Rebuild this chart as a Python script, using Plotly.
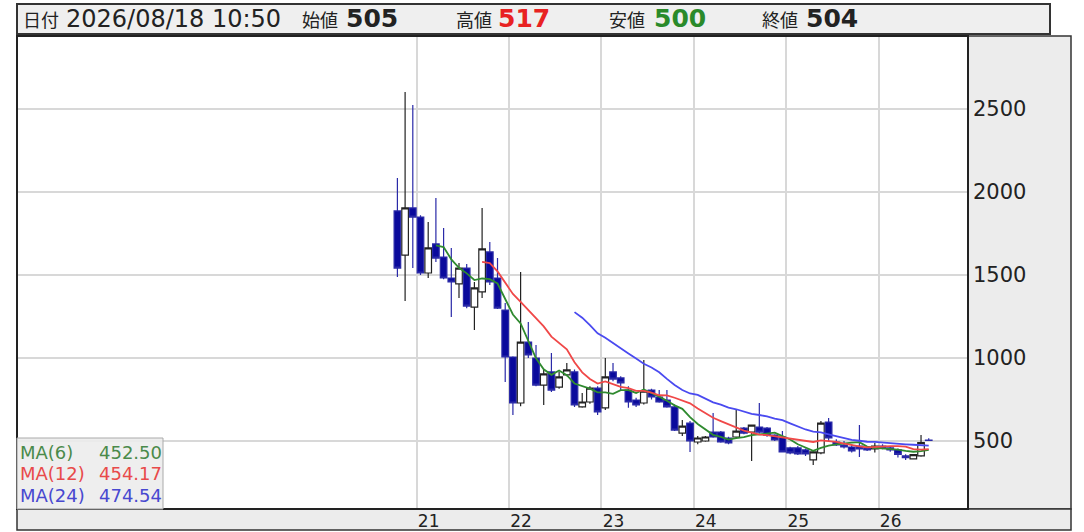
import plotly.graph_objects as go
import pandas as pd

# ---- data (30-minute candles) ----
opens = [1886, 1620, 1904, 1849, 1512, 1687, 1608, 1482, 1446, 1542, 1307, 1398,
         1639, 1482, 1289, 1006, 729, 1096, 1000, 837, 916, 825, 898, 916,
         705, 735, 819, 699, 916, 880, 807, 747, 729, 807, 765, 747,
         705, 548, 608, 494, 500, 554, 554, 518, 524, 578, 554, 584,
         578, 536, 524, 458, 458, 446, 386, 428, 614, 494, 476, 464,
         470, 458, 452, 470, 458, 446, 410, 392, 410, 505]
highs = [2084, 2602, 2524, 1860, 1819, 1964, 1783, 1663, 1572, 1566, 1458, 1904,
         1699, 1602, 1331, 1010, 1518, 1217, 1078, 928, 1030, 916, 970, 930,
         789, 830, 830, 1000, 970, 890, 830, 760, 988, 815, 807, 807,
         720, 626, 620, 530, 530, 669, 560, 525, 687, 585, 600, 729,
         585, 540, 560, 465, 470, 455, 440, 620, 639, 510, 500, 480,
         596, 470, 490, 480, 470, 455, 420, 420, 536, 517]
lows = [1488, 1343, 1542, 1500, 1482, 1578, 1475, 1247, 1361, 1300, 1169, 1361,
        1440, 1295, 855, 657, 710, 1000, 830, 717, 795, 815, 890, 705,
        700, 725, 657, 687, 860, 807, 700, 705, 720, 750, 730, 700,
        560, 530, 434, 480, 495, 520, 490, 480, 515, 540, 380, 545,
        525, 500, 430, 420, 415, 410, 355, 420, 500, 470, 455, 430,
        404, 440, 430, 450, 435, 400, 385, 388, 405, 500]
closes = [1542, 1904, 1849, 1512, 1663, 1602, 1482, 1458, 1542, 1313, 1422, 1657,
          1458, 1301, 1006, 729, 1096, 1018, 837, 904, 807, 886, 928, 717,
          735, 819, 675, 886, 873, 850, 735, 717, 801, 765, 735, 705,
          566, 590, 500, 518, 524, 524, 494, 488, 560, 548, 596, 554,
          536, 506, 434, 428, 422, 422, 434, 608, 518, 476, 464, 440,
          452, 446, 470, 458, 446, 420, 400, 418, 490, 504]

day_labels = ["21", "22", "23", "24", "25", "26"]
day_first_bar = [3, 15, 27, 39, 51, 63]
y_ticks = [500, 1000, 1500, 2000, 2500]

ma_periods = [6, 12, 24]
ma_colors = ["#2f8a2f", "#f04848", "#4a4af0"]
ma_text_colors = ["#4a8a4a", "#e84a4a", "#4848d0"]
ma_values_text = ["452.50", "454.17", "474.54"]

header_date = "2026/08/18 10:50"
header_open, header_high, header_low, header_close = "505", "517", "500", "504"

# ---- figure ----
W, H = 1084, 532
def px(x):
    return x / W
def py(y):
    return 1 - y / H

idx = list(range(len(closes)))
fig = go.Figure()

fig.add_trace(go.Candlestick(
    x=idx, open=opens, high=highs, low=lows, close=closes,
    increasing=dict(fillcolor="white", line=dict(color="#222222", width=1.2)),
    decreasing=dict(fillcolor="#0a0a9c", line=dict(color="#2a2aa8", width=1.2)),
    whiskerwidth=0, showlegend=False, hoverinfo="skip",
))

s = pd.Series(closes, dtype=float)
for p, c in zip(ma_periods, ma_colors):
    fig.add_trace(go.Scatter(
        x=idx, y=s.rolling(p).mean().tolist(), mode="lines",
        line=dict(color=c, width=1.8), showlegend=False, hoverinfo="skip",
        connectgaps=False,
    ))

FONT = "DejaVu Sans"
grid_vals = [b - 0.5 for b in day_first_bar]

fig.update_layout(
    width=W, height=H,
    margin=dict(l=0, r=0, t=0, b=0),
    paper_bgcolor="white", plot_bgcolor="white",
    showlegend=False,
    boxgap=0.05, boxgroupgap=0.1,
    xaxis=dict(
        domain=[px(17), px(968)], range=[-49.4, 74.1],
        tickmode="array", tickvals=grid_vals, ticktext=day_labels,
        showgrid=True, gridcolor="#d8d8d8", gridwidth=2,
        ticks="", ticklabelshift=12, ticklabelstandoff=1,
        tickfont=dict(family=FONT, size=17, color="#222222"),
        zeroline=False, showline=False,
        rangeslider=dict(visible=False), fixedrange=True,
    ),
    yaxis=dict(
        domain=[1 - 508 / H, 1 - 36 / H], range=[96.4, 2939.8],
        side="right", tickmode="array", tickvals=y_ticks,
        ticktext=[str(v) for v in y_ticks],
        showgrid=True, gridcolor="#d8d8d8", gridwidth=2,
        ticks="", ticklabelstandoff=4,
        tickfont=dict(family=FONT, size=21, color="#222222"),
        zeroline=False, showline=False, fixedrange=True,
    ),
)

shapes = []
# header box
shapes.append(dict(type="rect", xref="paper", yref="paper",
                   x0=px(17), x1=px(1050), y0=py(34), y1=py(4),
                   fillcolor="#efefef", line=dict(color="#333333", width=2), layer="below"))
# right label panel
shapes.append(dict(type="rect", xref="paper", yref="paper",
                   x0=px(968), x1=px(1071), y0=py(509), y1=py(36),
                   fillcolor="#ececec", line=dict(color="#333333", width=1.5), layer="below"))
# bottom label strip
shapes.append(dict(type="rect", xref="paper", yref="paper",
                   x0=px(17), x1=px(1071), y0=py(530), y1=py(509),
                   fillcolor="#ececec", line=dict(color="#333333", width=1.5), layer="below"))
# plot border
shapes.append(dict(type="rect", xref="paper", yref="paper",
                   x0=px(17), x1=px(968), y0=py(509), y1=py(36),
                   fillcolor="rgba(0,0,0,0)", line=dict(color="#222222", width=2), layer="above"))
# MA box
shapes.append(dict(type="rect", xref="paper", yref="paper",
                   x0=px(17), x1=px(163), y0=py(509), y1=py(438),
                   fillcolor="rgba(236,236,236,0.9)", line=dict(color="#aaaaaa", width=1), layer="above"))
fig.update_layout(shapes=shapes)

ann = []
def txt(x, y, t, size, color="#222222", bold=False, family=FONT, anchor="left"):
    if bold:
        t = "<b>" + t + "</b>"
    ann.append(dict(x=px(x), y=py(y), xref="paper", yref="paper", text=t,
                    showarrow=False, xanchor=anchor, yanchor="middle",
                    font=dict(family=family, size=size, color=color)))

CJK = "Noto Sans CJK JP"
hy = 19
txt(21, hy, "日付", 18, family=CJK)
txt(64, hy, header_date, 24)
txt(300, hy, "始値", 18, family=CJK)
txt(344, hy, header_open, 25, bold=True)
txt(454, hy, "高値", 18, family=CJK)
txt(496, hy, header_high, 25, color="#e82222", bold=True)
txt(607, hy, "安値", 18, family=CJK)
txt(652, hy, header_low, 25, color="#2a8a2a", bold=True)
txt(760, hy, "終値", 18, family=CJK)
txt(804, hy, header_close, 25, bold=True)

rows_y = [452, 473, 495]
for p, col, val, ry in zip(ma_periods, ma_text_colors, ma_values_text, rows_y):
    txt(18, ry, f"MA({p})", 18, color=col)
    txt(164, ry, val, 18, color=col, anchor="right")

fig.update_layout(annotations=ann)
fig.write_html("out.html",
               config={"displayModeBar": False},
               post_script="document.body.style.margin='0';document.body.style.overflow='hidden';")
